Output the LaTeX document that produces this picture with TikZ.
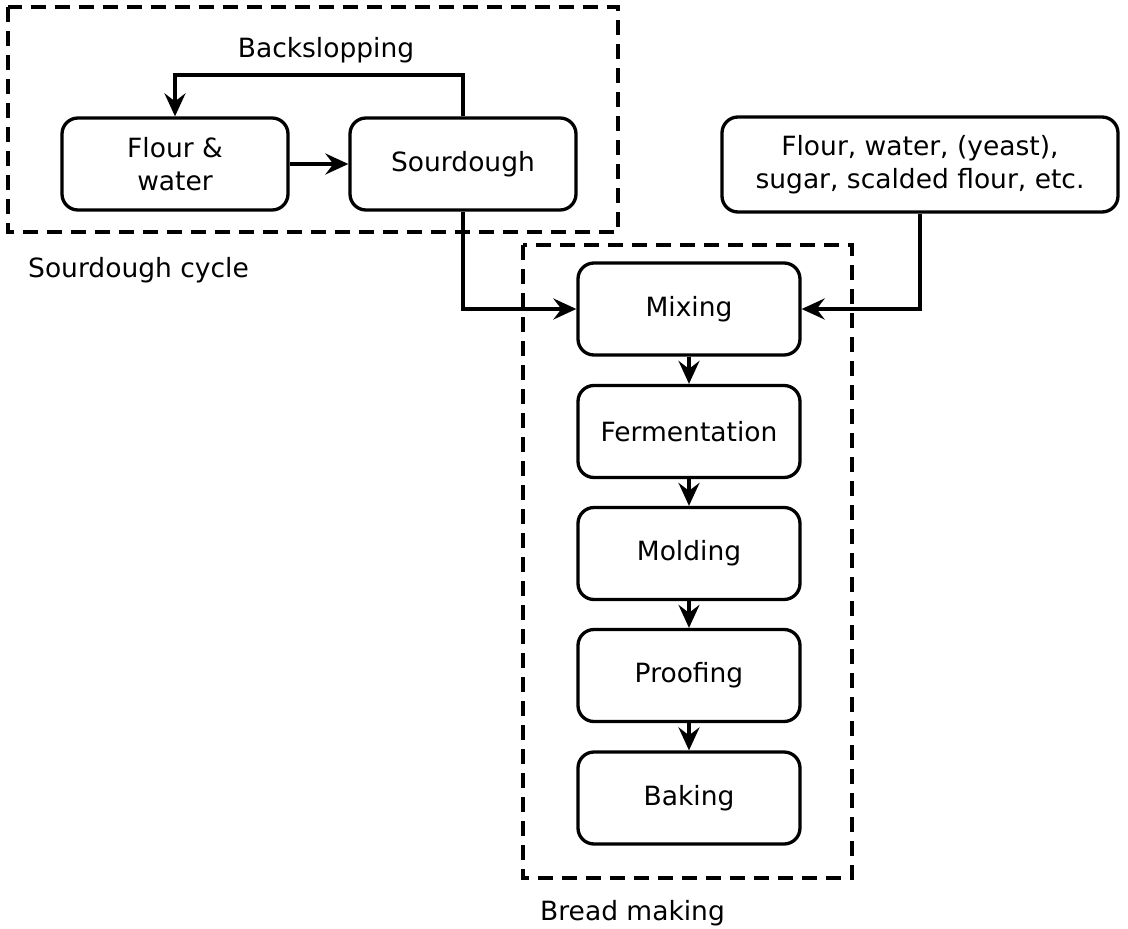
\documentclass[tikz,border=0pt]{standalone}
\usepackage{fontspec}
\setmainfont{DejaVu Sans}
\usetikzlibrary{arrows.meta}
\begin{document}
\begin{tikzpicture}[x=1pt,y=-1pt,
  font=\fontsize{26.5}{33}\selectfont,
  box/.style={draw,line width=3.3pt,rounded corners=16pt,inner sep=0pt,align=center,minimum width=226pt,minimum height=92pt},
  stage/.style={box,minimum width=222pt,minimum height=92pt},
  grp/.style={draw,line width=3.3pt,dash pattern=on 15pt off 9pt},
  conn/.style={line width=3.3pt,-{Stealth[length=23pt,width=21pt,inset=8pt]}},
  lbl/.style={inner sep=0pt}]
\useasboundingbox (0,0) rectangle (1128,929);
\fill[white] (0,0) rectangle (1128,929);
% groups
\draw[grp] (8,7) rectangle (618,232);
\draw[grp] (523,245) rectangle (852,878);
% nodes
\node[box] (fw) at (175,164) {Flour \&\\water};
\node[box] (sd) at (463,164) {Sourdough};
\node[box,minimum width=396pt,minimum height=95pt] (ing) at (920,164.5) {Flour, water, (yeast),\\sugar, scalded flour, etc.};
\node[stage] (mix) at (689,309) {Mixing};
\node[stage] (fer) at (689,431.5) {Fermentation};
\node[stage] (mol) at (689,553.5) {Molding};
\node[stage] (pro) at (689,675.5) {Proofing};
\node[stage] (bak) at (689,798) {Baking};
% labels
\node[lbl] (bs) at (326,50) {Backslopping};
\node[lbl,anchor=west] (sc) at (28,270) {Sourdough cycle};
\node[lbl,anchor=west] (bm) at (540,913) {Bread making};
% connectors
\coordinate (top) at (0,75);
\draw[conn] (sd.north) -- (sd.north |- top) -- (fw.north |- top) -- (fw.north);
\draw[conn] (fw.east) -- (sd.west);
\draw[conn] (sd.south) |- (mix.west);
\draw[conn] (ing.south) |- (mix.east);
\draw[conn] (mix) -- (fer);
\draw[conn] (fer) -- (mol);
\draw[conn] (mol) -- (pro);
\draw[conn] (pro) -- (bak);
\end{tikzpicture}
\end{document}
